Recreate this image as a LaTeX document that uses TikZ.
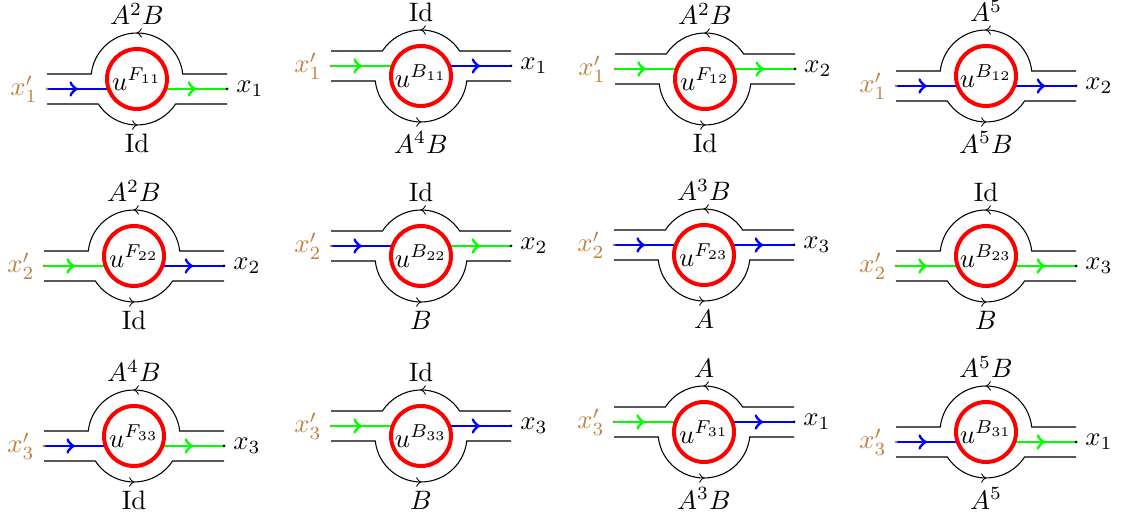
\documentclass[tikz,border=0pt]{standalone}
\usepackage{amsmath, amssymb}
\usetikzlibrary{decorations.markings, arrows.meta}

\tikzset{
  pics/cell/.style n args={8}{code={
    \pgfmathsetmacro\yup{#1+15}
    \pgfmathsetmacro\ylo{#1-15}
    \pgfmathsetmacro\aup{asin(\yup/46)}
    \pgfmathsetmacro\alo{asin(\ylo/46)}
    \pgfmathsetmacro\xup{46*cos(\aup)}
    \pgfmathsetmacro\xlo{46*cos(\alo)}
    \pgfmathsetmacro\xhit{sqrt(900-(#1)*(#1))}
    \coordinate (-in) at (-90,#1);
    \coordinate (-out) at (90,#1);
    \coordinate (-hitl) at (-\xhit,#1);
    \coordinate (-hitr) at (\xhit,#1);
    \draw[wall, midarrow] (90,\yup) -- (\xup,\yup) arc[start angle=\aup, end angle=180-\aup, radius=46] -- (-90,\yup);
    \draw[wall, midarrow] (-90,\ylo) -- (-\xlo,\ylo) arc[start angle=180-\alo, end angle=360+\alo, radius=46] -- (90,\ylo);
    \draw[strand, #2] (-in) -- (-hitl);
    \draw[strand, #3] (-hitr) -- (-out);
    \node[core] (-core) at (0,0) {$u^{#4}$};
    \fill[brown] (-in) circle (1.5);
    \fill (-out) circle (1.5);
    \node[above, inner sep=2.8pt] (-top) at (0,46) {$#5$};
    \node[below] (-bot) at (0,-46) {$#6$};
    \node[left, text=brown] (-src) at (-in) {$x'_{#7}$};
    \node[right] (-dst) at (-out) {$x_{#8}$};
  }}
}

\begin{document}
\begin{tikzpicture}[x=0.375pt, y=0.375pt, >=to]
        \tikzstyle{core} = [circle, draw=red, line width=1.5pt, minimum size=22.5pt, inner sep=0pt]
        \tikzstyle{strand} = [line width=1.1pt, midarrow]
        \tikzstyle{wall} = [black, thin]
        \tikzstyle{midarrow} = [postaction={decorate, decoration={markings, mark=at position 0.5 with {\arrow{>}}}}]
        \useasboundingbox (0,0) rectangle (1122,-518);

        % row 1
        \pic (c11) at (137,-79) {cell={-10}{blue}{green}{F_{11}}{A^2B}{\mathrm{Id}}{1}{1}};
        \pic (c12) at (421,-76) {cell={10}{green}{blue}{B_{11}}{\mathrm{Id}}{A^4B}{1}{1}};
        \pic (c13) at (705,-79) {cell={10}{green}{green}{F_{12}}{A^2B}{\mathrm{Id}}{1}{2}};
        \pic (c14) at (986,-76) {cell={-10}{blue}{blue}{B_{12}}{A^5}{A^5B}{1}{2}};

        % row 2
        \pic (c21) at (134,-256) {cell={-10}{green}{blue}{F_{22}}{A^2B}{\mathrm{Id}}{2}{2}};
        \pic (c22) at (421,-256) {cell={10}{blue}{green}{B_{22}}{\mathrm{Id}}{B}{2}{2}};
        \pic (c23) at (704,-255) {cell={10}{blue}{blue}{F_{23}}{A^3B}{A}{2}{3}};
        \pic (c24) at (986,-256) {cell={-10}{green}{green}{B_{23}}{\mathrm{Id}}{B}{2}{3}};

        % row 3
        \pic (c31) at (134,-436) {cell={-10}{blue}{green}{F_{33}}{A^4B}{\mathrm{Id}}{3}{3}};
        \pic (c32) at (421,-436) {cell={10}{green}{blue}{B_{33}}{\mathrm{Id}}{B}{3}{3}};
        \pic (c33) at (704,-432) {cell={10}{green}{blue}{F_{31}}{A}{A^3B}{3}{1}};
        \pic (c34) at (986,-432) {cell={-10}{blue}{green}{B_{31}}{A^5B}{A^5}{3}{1}};
    \end{tikzpicture}
\end{document}
